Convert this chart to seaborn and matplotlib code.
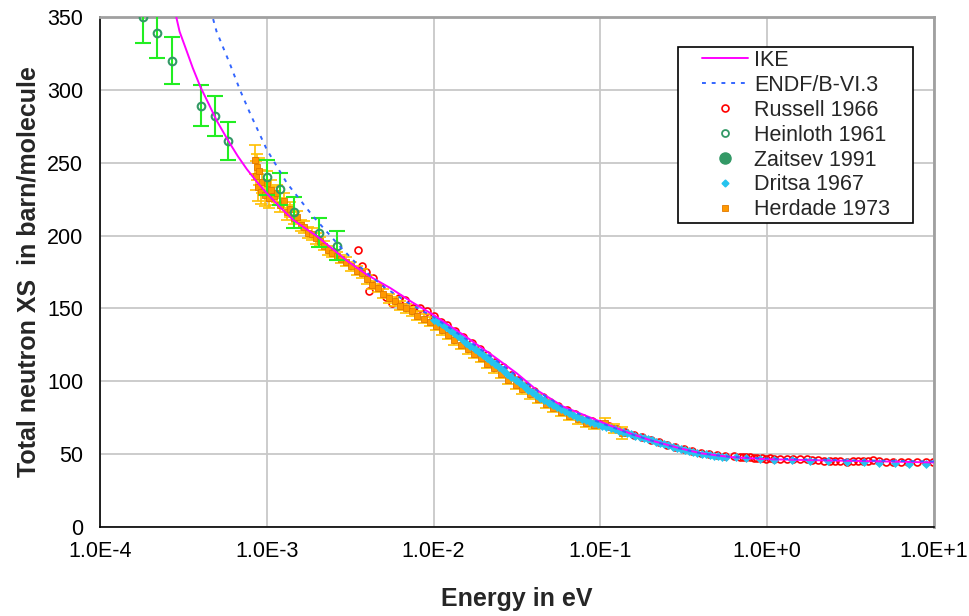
import numpy as np
import pandas as pd
import matplotlib
matplotlib.use("Agg")
import matplotlib.pyplot as plt
import seaborn as sns
from matplotlib.lines import Line2D
from matplotlib.patches import Rectangle
from matplotlib.ticker import FixedLocator, FixedFormatter, LogLocator, MultipleLocator, NullFormatter

# ---------------- data ----------------
ike_e = [2.8e-4, 3.0e-4, 3.3e-4, 3.6e-4, 4.0e-4, 4.5e-4, 5.0e-4, 5.9e-4, 6.7e-4, 7.6e-4,
         8.7e-4, 1.0e-3, 1.2e-3, 1.44e-3, 1.7e-3, 2.0e-3, 2.5e-3, 3.0e-3, 4.0e-3, 5.5e-3,
         7.5e-3, 1.0e-2, 1.5e-2, 2.3e-2, 3.15e-2, 4.15e-2, 6.0e-2, 0.1, 0.15, 0.2,
         0.3, 0.4, 0.6, 1.0, 2.0, 5.0, 10.0]
ike_xs = [355, 340, 327, 315, 302, 290, 279, 264.7, 254.5, 245.5,
          237, 229, 219.5, 210.7, 205, 199.5, 190.5, 183, 173, 164,
          154, 145.5, 132, 117, 105.5, 94, 82.6, 72.3, 64.3, 59.5,
          54, 50.6, 48, 46.5, 45.8, 45, 44.3]

endf_e = [4.6e-4, 5.0e-4, 6.0e-4, 6.9e-4, 8.0e-4, 1.0e-3, 1.32e-3, 1.9e-3, 2.75e-3, 3.5e-3,
          5.0e-3, 7.0e-3, 1.0e-2, 1.5e-2, 2.3e-2, 3.2e-2, 4.5e-2, 6.0e-2, 0.1, 0.15,
          0.25, 0.4, 0.6, 1.0, 3.0, 10.0]
endf_xs = [355, 340, 318, 300, 283, 259, 236, 213, 192.4, 180,
           165, 154, 144, 130.5, 115.5, 103, 91, 82, 71.5, 64,
           56, 50.5, 48.2, 47, 45.8, 45]

russell_e = [3.54e-3, 3.74e-3, 3.94e-3, 4.12e-3, 4.36e-3, 4.8e-3, 5.2e-3, 5.67e-3, 6.2e-3, 6.74e-3,
             7.5e-3, 8.28e-3, 9.16e-3,
             1.0e-2, 1.1e-2, 1.2e-2, 1.35e-2, 1.5e-2, 1.7e-2, 1.9e-2, 2.1e-2, 2.35e-2, 2.6e-2,
             2.9e-2, 3.2e-2, 3.6e-2, 4.0e-2, 4.5e-2, 5.0e-2, 5.6e-2, 6.3e-2, 7.0e-2, 7.9e-2,
             8.9e-2, 0.1, 0.112, 0.126, 0.141, 0.158, 0.178, 0.2, 0.224, 0.25, 0.28, 0.316,
             0.355, 0.4, 0.45, 0.5, 0.56, 0.63,
             0.687, 0.72, 0.75, 0.79, 0.83, 0.87, 0.93, 0.98, 1.04, 1.1, 1.2, 1.31, 1.43, 1.57,
             1.73, 1.85, 2.03, 2.2, 2.37, 2.55, 2.74, 3.0, 3.28, 3.5, 3.75, 4.0, 4.3, 4.7,
             5.15, 5.65, 6.35, 7.0, 7.9, 8.9, 9.85]
russell_xs = [190.1, 179.3, 175.2, 162, 170.7, 165, 158, 153.5, 157, 155.8,
              150, 150.1, 148,
              145, 141, 138.5, 134.5, 130.5, 126, 122, 118, 113.5, 109.5,
              104.5, 101, 96.5, 93, 89, 86, 83, 80, 77.5, 75,
              73, 71, 69, 67, 65, 63, 61.5, 60, 58, 56.5, 55, 53.5,
              52, 51, 49.8, 49.2, 48.8, 48.5,
              48.3, 48.0, 47.9, 47.8, 47.6, 47.2, 47.3, 47.0, 47.1, 46.9, 46.8, 46.6, 46.5, 46.4,
              46.4, 46.1, 45.9, 45.3, 45.5, 45.4, 45.2, 44.5, 45.6, 45.6, 45.4, 45.5, 45.7, 45.2,
              44.8, 44.7, 44.6, 44.5, 44.6, 44.4, 44.5]

heinloth_e = [1.82e-4, 2.21e-4, 2.69e-4, 4.05e-4, 4.89e-4, 5.87e-4, 1.007e-3, 1.205e-3, 1.46e-3,
              2.06e-3, 2.65e-3]
heinloth_xs = [350, 339, 320, 289, 282, 265, 240, 232, 216, 202, 193]
heinloth_err = [18, 17, 16, 14, 14, 13, 12, 11, 10.5, 10, 10]

zaitsev_e = []
zaitsev_xs = []

dritsa_e = [1.0e-2, 1.06e-2, 1.12e-2, 1.18e-2, 1.25e-2, 1.32e-2, 1.4e-2, 1.48e-2, 1.57e-2, 1.66e-2,
            1.76e-2, 1.86e-2, 1.97e-2, 2.08e-2, 2.2e-2, 2.33e-2, 2.47e-2, 2.61e-2, 2.77e-2, 2.93e-2,
            3.1e-2, 3.28e-2, 3.47e-2, 3.68e-2, 3.89e-2, 4.12e-2, 4.36e-2, 4.62e-2, 4.89e-2, 5.17e-2,
            5.48e-2, 5.8e-2, 6.14e-2, 6.5e-2, 6.88e-2, 7.28e-2, 7.71e-2, 8.16e-2, 8.64e-2, 9.15e-2,
            9.68e-2, 0.1025, 0.1085, 0.115, 0.122, 0.129, 0.137, 0.145, 0.153, 0.162,
            0.172, 0.182, 0.193, 0.204, 0.216, 0.229, 0.242, 0.256, 0.271, 0.287,
            0.304, 0.322, 0.341, 0.361, 0.382, 0.405, 0.428, 0.453, 0.48, 0.508,
            0.538, 0.57, 0.65, 0.75, 0.9, 1.1, 1.4, 1.8, 2.3, 3.0,
            3.8, 4.7, 5.8, 7.1, 8.9]
dritsa_xs = [142, 140.5, 139, 137.2, 135.5, 133.3, 131, 128.7, 126.5, 124.5,
             122.2, 120, 118.2, 116, 114, 112, 109.7, 107.7, 105.2, 102.8,
             100.8, 98.5, 96.6, 94.3, 92.4, 90.5, 88.5, 87, 85.2, 83.8,
             82.3, 80.9, 79.5, 78.2, 76.9, 75.6, 74.4, 73.3, 72.2, 71.2,
             70.4, 69.6, 68.8, 68, 67.1, 66.2, 65.2, 64.2, 63.5, 62.6,
             61.8, 60.9, 60.1, 59.4, 58.5, 57.6, 56.9, 56, 55.2, 54.4,
             53.6, 53, 52.2, 51.6, 50.9, 50.3, 49.8, 49.3, 48.9, 48.6,
             48.3, 48.1, 47.7, 47.2, 46.8, 46.3, 46, 45.6, 45.3, 44.8,
             44.5, 43.8, 44, 43.3, 43.4]

herdade_e = [8.5e-4, 8.6e-4, 8.7e-4, 8.8e-4, 9.0e-4, 9.2e-4, 9.4e-4, 9.7e-4, 1.0e-3, 1.03e-3,
             1.06e-3, 1.1e-3, 1.15e-3, 1.2e-3, 1.26e-3, 1.32e-3, 1.38e-3, 1.45e-3, 1.52e-3, 1.6e-3,
             1.68e-3, 1.77e-3, 1.86e-3, 1.96e-3, 2.07e-3, 2.2e-3, 2.33e-3, 2.47e-3, 2.62e-3, 2.8e-3,
             3.0e-3, 3.2e-3, 3.45e-3, 3.7e-3, 4.0e-3, 4.3e-3, 4.65e-3, 5.0e-3, 5.4e-3, 5.85e-3,
             6.3e-3, 6.8e-3, 7.4e-3, 8.0e-3, 8.7e-3, 9.5e-3, 1.03e-2, 1.12e-2, 1.22e-2, 1.33e-2,
             1.45e-2, 1.6e-2, 1.75e-2, 1.92e-2, 2.1e-2, 2.3e-2, 2.55e-2, 2.8e-2, 3.1e-2, 3.4e-2,
             3.8e-2, 4.2e-2, 4.7e-2, 5.2e-2, 5.8e-2, 6.5e-2, 7.3e-2, 8.2e-2, 9.2e-2, 0.107,
             0.12, 0.134]
herdade_xs = [252, 241, 247, 233, 244, 230, 237, 228, 236, 226,
              231, 227, 229, 221, 224, 216, 218, 212, 213, 207,
              206, 202, 201, 198, 196, 193, 190, 188, 186, 184,
              182, 179, 176, 174, 170, 166, 164, 160, 157, 155,
              152, 150, 148, 145, 143, 141, 138, 135, 132, 128,
              125, 122, 119, 116, 112, 109, 105, 101, 97.5, 94.5,
              91, 88, 84.5, 82, 79, 76.5, 74, 71.5, 70, 71.5,
              67.7, 64.3]
herdade_err = [10, 10, 9, 9, 9, 8, 8, 8, 8, 7,
               7, 6, 6, 5, 5, 5, 5, 4, 4, 4,
               4, 4, 4, 4, 3, 3, 3, 3, 3, 3,
               3, 3, 3, 3, 3, 3, 3, 3, 3, 3,
               3, 3, 3, 3, 3, 3, 3, 3, 3, 3,
               3, 3, 3, 3, 3, 3, 3, 3, 3, 3,
               3, 3, 3, 3, 3, 3, 3, 3, 3, 3,
               3, 4]

x_ticks = [1e-4, 1e-3, 1e-2, 1e-1, 1e0, 1e1]
x_tick_labels = ["1.0E-4", "1.0E-3", "1.0E-2", "1.0E-1", "1.0E+0", "1.0E+1"]
y_ticks = [0, 50, 100, 150, 200, 250, 300, 350]

labels = ["IKE", "ENDF/B-VI.3", "Russell 1966", "Heinloth 1961", "Zaitsev 1991",
          "Dritsa 1967", "Herdade 1973"]

# ---------------- style ----------------
sns.set_style("white")
plt.rcParams["font.family"] = ["Liberation Sans", "DejaVu Sans"]

fig = plt.figure(figsize=(9.69, 6.16), dpi=100)
ax = fig.add_axes([100 / 969, 1 - 527 / 616, 834 / 969, 510 / 616])
ax.set_xscale("log")

C_IKE = "#FF00FF"
C_ENDF = "#3366FF"
C_RUS = "#FF0000"
C_HEIN = "#339966"
C_HEIN_ERR = "#22EE22"
C_DRI = "#25C3EE"
C_HER = "#FF9900"
C_HER_ERR = "#FFC000"

# Russell
sns.lineplot(x=russell_e, y=russell_xs, ax=ax, estimator=None, linestyle="", marker="o",
             markersize=5, color=C_RUS, markerfacecolor="none", markeredgecolor=C_RUS,
             markeredgewidth=1.2, zorder=2)

# Herdade with error bars
ax.errorbar(herdade_e, herdade_xs, yerr=herdade_err, fmt="none", ecolor=C_HER_ERR,
            elinewidth=1.2, capsize=4, capthick=1.2, zorder=3)
sns.lineplot(x=herdade_e, y=herdade_xs, ax=ax, estimator=None, linestyle="", marker="s",
             markersize=4.5, color=C_HER, markerfacecolor=C_HER, markeredgecolor="#E07800",
             markeredgewidth=0.6, zorder=3)

# Dritsa
sns.lineplot(x=dritsa_e, y=dritsa_xs, ax=ax, estimator=None, linestyle="", marker="D",
             markersize=4.5, color=C_DRI, markerfacecolor=C_DRI, markeredgecolor=C_DRI,
             markeredgewidth=0.5, zorder=4)

# Heinloth with error bars
ax.errorbar(heinloth_e, heinloth_xs, yerr=heinloth_err, fmt="none", ecolor=C_HEIN_ERR,
            elinewidth=1.5, capsize=5.5, capthick=1.5, zorder=4)
sns.lineplot(x=heinloth_e, y=heinloth_xs, ax=ax, estimator=None, linestyle="", marker="o",
             markersize=5.5, color=C_HEIN, markerfacecolor="none", markeredgecolor=C_HEIN,
             markeredgewidth=1.5, zorder=5)

# Zaitsev (no points inside the displayed range)
if len(zaitsev_e):
    sns.lineplot(x=zaitsev_e, y=zaitsev_xs, ax=ax, estimator=None, linestyle="", marker="o",
                 markersize=8, color=C_HEIN, zorder=5)

# Evaluations
sns.lineplot(x=ike_e, y=ike_xs, ax=ax, estimator=None, color=C_IKE, linewidth=1.4, zorder=6)
sns.lineplot(x=endf_e, y=endf_xs, ax=ax, estimator=None, color=C_ENDF, linewidth=1.4,
             linestyle=(0, (2, 3)), zorder=6)

# ---------------- axes ----------------
ax.set_xlim(1e-4, 10)
ax.set_ylim(0, 350)
ax.xaxis.set_major_locator(FixedLocator(x_ticks))
ax.xaxis.set_major_formatter(FixedFormatter(x_tick_labels))
ax.xaxis.set_minor_locator(LogLocator(base=10, subs=np.arange(2, 10)))
ax.xaxis.set_minor_formatter(NullFormatter())
ax.yaxis.set_major_locator(FixedLocator(y_ticks))
ax.yaxis.set_minor_locator(MultipleLocator(10))

ax.grid(True, which="major", color="#C8C8C8", linewidth=1.3)
ax.set_axisbelow(True)

ax.tick_params(axis="both", which="major", direction="inout", length=10, width=1.2,
               color="black", labelsize=15.5, labelcolor="black")
ax.tick_params(axis="x", which="major", pad=5)
ax.tick_params(axis="y", which="major", pad=7)
ax.tick_params(axis="both", which="minor", direction="in", length=4, width=1.0, color="black")
ax.tick_params(top=False, right=False, which="both")

for s in ["left", "bottom"]:
    ax.spines[s].set_color("black")
    ax.spines[s].set_linewidth(1.2)
for s in ["top", "right"]:
    ax.spines[s].set_color("#A0A0A0")
    ax.spines[s].set_linewidth(2.0)

ax.set_xlabel("Energy in eV", fontsize=18, fontweight="bold")
ax.set_ylabel("Total neutron XS  in barn/molecule", fontsize=18, fontweight="bold")
ax.xaxis.set_label_coords(0.5, -0.117)
ax.yaxis.set_label_coords(-0.071, 0.5)

# ---------------- legend ----------------
handles = [
    Line2D([], [], color=C_IKE, linewidth=1.4),
    Line2D([], [], color=C_ENDF, linewidth=1.4, linestyle=(0, (2, 3))),
    Line2D([], [], linestyle="", marker="o", markersize=5, markerfacecolor="none",
           markeredgecolor=C_RUS, markeredgewidth=1.2),
    Line2D([], [], linestyle="", marker="o", markersize=5, markerfacecolor="none",
           markeredgecolor=C_HEIN, markeredgewidth=1.3),
    Line2D([], [], linestyle="", marker="o", markersize=8, markerfacecolor=C_HEIN,
           markeredgecolor=C_HEIN),
    Line2D([], [], linestyle="", marker="D", markersize=3.5, markerfacecolor=C_DRI,
           markeredgecolor=C_DRI),
    Line2D([], [], linestyle="", marker="s", markersize=4, markerfacecolor=C_HER,
           markeredgecolor="#E07800", markeredgewidth=0.6),
]
box = Rectangle(((678 - 100) / 834, (527 - 223) / 510), (913 - 678) / 834, (223 - 47) / 510,
                transform=ax.transAxes, facecolor="white", edgecolor="black", linewidth=1.2,
                zorder=7, clip_on=False)
ax.add_patch(box)
leg = ax.legend(handles, labels, loc="upper left",
                bbox_to_anchor=((701.7 - 100) / 834, (527 - 50) / 510),
                borderaxespad=0, borderpad=0, frameon=False, fontsize=15.5,
                handlelength=2.15, handletextpad=0.3, labelspacing=0.18)
leg.set_zorder(8)

fig.savefig("out.png", dpi=100)
